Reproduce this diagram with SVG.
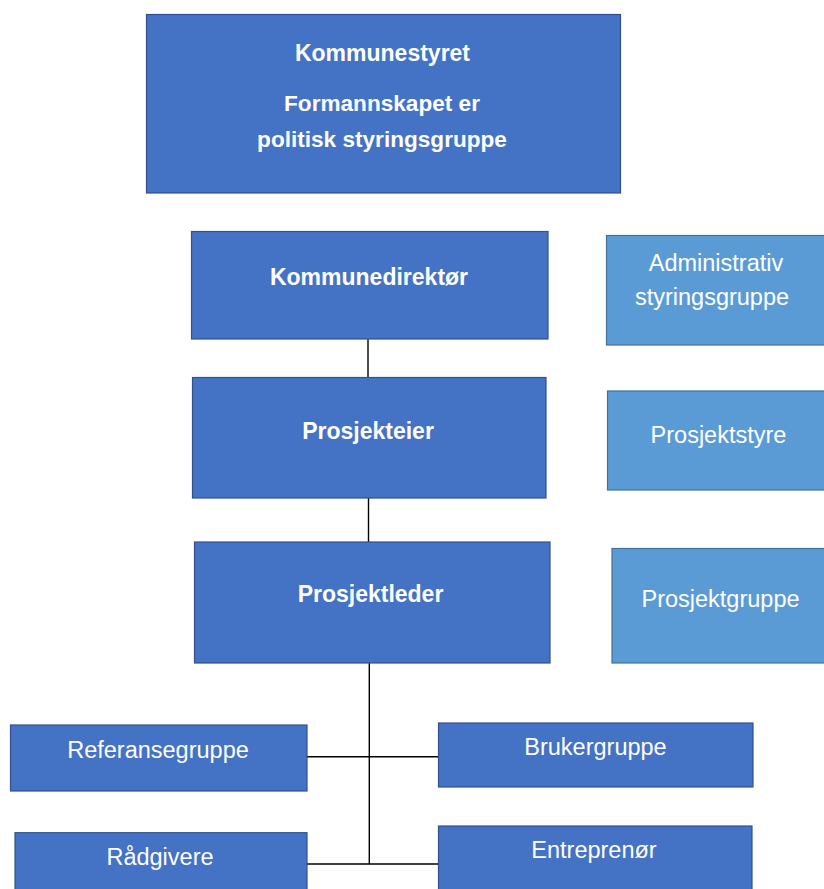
<svg xmlns="http://www.w3.org/2000/svg" width="824" height="889" viewBox="0 0 824 889">
<style>
.dk{fill:#4472C4;stroke:#2F528F;stroke-width:1.2}
.lt{fill:#5B9BD5;stroke:#41719C;stroke-width:1.2}
text{font-family:"Liberation Sans",Arial,sans-serif;fill:#FFFFFF;text-anchor:middle}
.b{font-weight:bold;font-size:23px}
.b2{font-weight:bold;font-size:22.6px}
.r{font-size:23.5px}
.c{stroke:#000000;stroke-width:1.4;fill:none}
</style>
<rect x="0" y="0" width="824" height="889" fill="#FFFFFF"/>
<g id="connectors">
<line class="c" x1="368" y1="339" x2="368" y2="377"/>
<line class="c" x1="368.5" y1="498" x2="368.5" y2="542"/>
<line class="c" x1="369.3" y1="663" x2="369.3" y2="864"/>
<line class="c" x1="307" y1="756.7" x2="439" y2="756.7"/>
<line class="c" x1="307" y1="864" x2="440" y2="864"/>
</g>
<g id="kommunestyret">
<rect class="dk" x="146.5" y="14.5" width="474" height="178.5"/>
<text class="b" x="382.5" y="61">Kommunestyret</text>
<text class="b2" x="382" y="111">Formannskapet er</text>
<text class="b2" x="382" y="147">politisk styringsgruppe</text>
</g>
<g id="kommunedirektor">
<rect class="dk" x="191.5" y="231.5" width="356.5" height="107.5"/>
<text class="b" x="369" y="285">Kommunedirektør</text>
</g>
<g id="prosjekteier">
<rect class="dk" x="192.5" y="377.5" width="353.5" height="120.5"/>
<text class="b" x="368" y="439">Prosjekteier</text>
</g>
<g id="prosjektleder">
<rect class="dk" x="194.5" y="542" width="355.5" height="121"/>
<text class="b" x="370.5" y="602">Prosjektleder</text>
</g>
<g id="administrativ">
<rect class="lt" x="606.5" y="235.5" width="230" height="109.5"/>
<text class="r" x="716" y="271">Administrativ</text>
<text class="r" x="712" y="305">styringsgruppe</text>
</g>
<g id="prosjektstyre">
<rect class="lt" x="607.5" y="391" width="230" height="99"/>
<text class="r" x="718.5" y="443">Prosjektstyre</text>
</g>
<g id="prosjektgruppe">
<rect class="lt" x="612" y="548.5" width="230" height="114.5"/>
<text class="r" x="720.5" y="607">Prosjektgruppe</text>
</g>
<g id="referansegruppe">
<rect class="dk" x="10.5" y="725" width="296.5" height="66"/>
<text class="r" x="158" y="758">Referansegruppe</text>
</g>
<g id="brukergruppe">
<rect class="dk" x="438.5" y="723" width="314.5" height="64"/>
<text class="r" x="595.5" y="755">Brukergruppe</text>
</g>
<g id="radgivere">
<rect class="dk" x="15" y="832.7" width="292" height="70"/>
<text class="r" x="160" y="865">Rådgivere</text>
</g>
<g id="entreprenor">
<rect class="dk" x="438.5" y="826" width="313.5" height="70"/>
<text class="r" x="594" y="858">Entreprenør</text>
</g>
</svg>
